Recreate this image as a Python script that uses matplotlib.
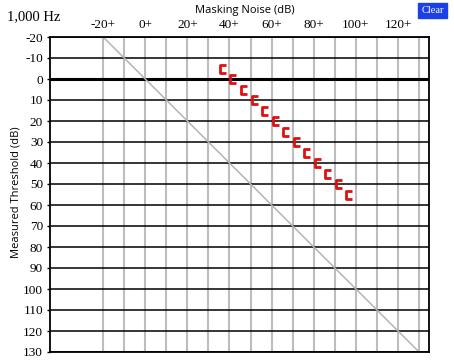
import numpy as np
import matplotlib
matplotlib.use('Agg')
import matplotlib.pyplot as plt
from matplotlib.path import Path
from matplotlib.patches import Rectangle

# masked threshold points (masking noise dB, measured threshold dB)
noise_db = [35, 40, 45, 50, 55, 60, 65, 70, 75, 80, 85, 90, 95]
threshold_db = [-5, 0, 5, 10, 15, 20, 25, 30, 35, 40, 45, 50, 55]

y_ticks = list(range(-20, 131, 10))
x_grid = list(range(-20, 131, 10))
x_labels = list(range(-20, 121, 20))

fig = plt.figure(figsize=(4.54, 3.63), dpi=100)
ax = fig.add_axes([50 / 454, 1 - 352 / 363, 379 / 454, 315 / 363])

ax.set_xlim(-45.2, 134.7)
ax.set_ylim(130, -20)

# vertical grey grid
for x in x_grid:
    ax.axvline(x, color='#bdbdbd', lw=1.5, zorder=1)
# horizontal black lines
for y in y_ticks:
    ax.axhline(y, color='black', lw=2.2 if y == 0 else 1.1, zorder=2)

# reference diagonal
ax.plot([-20, 130], [-20, 130], color='#b4b4b4', lw=1.1, zorder=2)

# "[" marker
bracket = Path([(2.0, 1), (0.3, 1), (0.3, -1), (2.0, -1)],
               [Path.MOVETO, Path.LINETO, Path.LINETO, Path.LINETO])
ax.plot(noise_db, threshold_db, ls='none', marker=bracket, markersize=10.5,
        markeredgecolor='#e01010', markerfacecolor='none', markeredgewidth=2.0,
        zorder=5)

for s in ax.spines.values():
    s.set_linewidth(1.3)

serif = 'Liberation Serif'
ax.set_yticks(y_ticks)
ax.set_yticklabels([str(v) for v in y_ticks], fontfamily=serif, fontsize=9.5)
ax.tick_params(axis='y', length=2, width=1, pad=3)

ax.xaxis.tick_top()
ax.set_xticks(x_labels)
ax.set_xticklabels([f'{v}+' for v in x_labels], fontfamily=serif, fontsize=9.5)
ax.tick_params(axis='x', length=0, pad=4)

fig.text(245 / 454, 1 - 10 / 363, 'Masking Noise (dB)', ha='center', va='center',
         fontfamily='Open Sans', fontsize=8)
fig.text(16 / 454, 1 - 192 / 363, 'Measured Threshold (dB)', ha='center', va='center',
         rotation=90, fontfamily='Open Sans', fontsize=8)
fig.text(7 / 454, 1 - 17 / 363, '1,000 Hz', ha='left', va='center',
         fontfamily=serif, fontsize=10.5)

# Clear button
fig.patches.append(Rectangle((418 / 454, 1 - 18 / 363), 29 / 454, 15 / 363,
                             transform=fig.transFigure, color='#1c3fe6', zorder=3))
fig.text(432.5 / 454, 1 - 10.5 / 363, 'Clear', ha='center', va='center',
         fontfamily=serif, fontsize=7.5, color='white', zorder=4)

fig.savefig('out.png', dpi=100)
